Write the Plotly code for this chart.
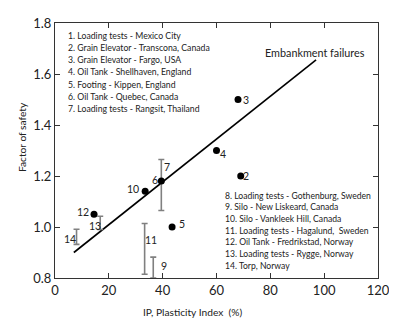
import plotly.graph_objects as go

# Case-history points (IP %, factor of safety)
pt_labels = ["2", "3", "4", "5", "6", "10", "12"]
pt_ip = [69, 68, 60, 43.5, 39.5, 33.5, 14.5]
pt_fs = [1.2, 1.5, 1.3, 1.0, 1.18, 1.14, 1.05]

# Range cases (IP %, low FS, high FS)
rng_labels = ["7", "9", "11", "13", "14"]
rng_ip = [39.5, 36.5, 33.3, 16.8, 8.0]
rng_lo = [1.065, 0.80, 0.815, 0.99, 0.932]
rng_hi = [1.265, 0.882, 1.014, 1.042, 0.991]

# Embankment failures trend line
emb_ip = [7, 97]
emb_fs = [0.9, 1.655]

# Label positions (IP, FS) for the case numbers
lab_text = ["3", "4", "2", "5", "6", "7", "10", "12", "13", "14", "11", "9"]
lab_ip = [70.9, 62.3, 70.9, 47.3, 37.1, 41.6, 29.0, 10.4, 14.8, 5.5, 35.8, 40.4]
lab_fs = [1.5, 1.287, 1.2, 1.013, 1.185, 1.236, 1.151, 1.059, 1.005, 0.952, 0.951, 0.849]

legend_left = [
    "1. Loading tests - Mexico City",
    "2. Grain Elevator - Transcona, Canada",
    "3. Grain Elevator - Fargo, USA",
    "4. Oil Tank - Shellhaven, England",
    "5. Footing - Kippen, England",
    "6. Oil Tank - Quebec, Canada",
    "7. Loading tests - Rangsit, Thailand",
]
legend_right = [
    "8. Loading tests - Gothenburg, Sweden",
    "9. Silo - New Liskeard, Canada",
    "10. Silo - Vankleek Hill, Canada",
    "11. Loading tests - Hagalund,  Sweden",
    "12. Oil Tank - Fredrikstad, Norway",
    "13. Loading tests - Rygge, Norway",
    "14. Torp, Norway",
]

FONT = "Lato, Open Sans, sans-serif"
TXT = "#222"

# page offset (body margin of the html page)
OFF = 8
W, H = 397 - OFF, 323 - OFF
L, T = 55 - OFF, 15 - OFF
pw, ph = 329, 263
R, B = W - L - pw, H - T - ph


def px(xp):
    return (xp - OFF - L) / pw


def py(yp):
    return 1 - (yp - OFF - T) / ph


def note(x, y, text, size, xanchor="center", yanchor="middle", **kw):
    fig.add_annotation(x=px(x), y=py(y), xref="paper", yref="paper", text=text,
                       showarrow=False, xanchor=xanchor, yanchor=yanchor,
                       font=dict(size=size, color=TXT, family=FONT), **kw)


fig = go.Figure()

fig.add_trace(go.Scatter(
    x=emb_ip, y=emb_fs, mode="lines",
    line=dict(color="black", width=1.6), hoverinfo="skip", showlegend=False))

mid = [(a + b) / 2 for a, b in zip(rng_lo, rng_hi)]
fig.add_trace(go.Scatter(
    x=rng_ip, y=mid, mode="markers",
    marker=dict(size=1, color="rgba(0,0,0,0)"),
    error_y=dict(type="data", symmetric=False,
                 array=[h - m for h, m in zip(rng_hi, mid)],
                 arrayminus=[m - l for m, l in zip(mid, rng_lo)],
                 color="#808080", thickness=1.6, width=3),
    showlegend=False, hoverinfo="skip"))

fig.add_trace(go.Scatter(
    x=pt_ip, y=pt_fs, mode="markers",
    marker=dict(size=7, color="black"), showlegend=False))

for t, x, y in zip(lab_text, lab_ip, lab_fs):
    fig.add_annotation(x=x, y=y, text=t, showarrow=False, xanchor="center",
                       yanchor="middle", font=dict(size=10.5, color=TXT, family=FONT))

note(320, 45, "Embankment failures", 10.8)

left_y = [28, 40.5, 53, 65.5, 78, 90.5, 103]
for i, s in enumerate(legend_left):
    note(66, left_y[i], s, 8.7, xanchor="left")
right_y = [193, 205, 217, 229.5, 241, 253, 266]
for i, s in enumerate(legend_right):
    note(226, right_y[i], s, 8.6, xanchor="left")

note(195, 313, "IP, Plasticity Index\u00a0\u00a0(%)", 10.2)
note(22, 133, "Factor of safety", 10.2, textangle=-90)

axis_common = dict(showgrid=False, zeroline=False, showline=True, linecolor="#333",
                   linewidth=1, mirror="ticks", ticks="inside", ticklen=5,
                   tickcolor="#333", ticklabeloverflow="allow",
                   tickfont=dict(size=13, color=TXT, family=FONT))
fig.update_xaxes(range=[0, 120], tickvals=[0, 20, 40, 60, 80, 100, 120], **axis_common)
fig.update_yaxes(range=[0.8, 1.8], tickvals=[0.8, 1.0, 1.2, 1.4, 1.6, 1.8],
                 tickformat=".1f", **axis_common)

fig.update_layout(width=W, height=H, margin=dict(l=L, r=R, t=T, b=B),
                  paper_bgcolor="white", plot_bgcolor="white",
                  font=dict(family=FONT))

fig.write_html("out.html")
